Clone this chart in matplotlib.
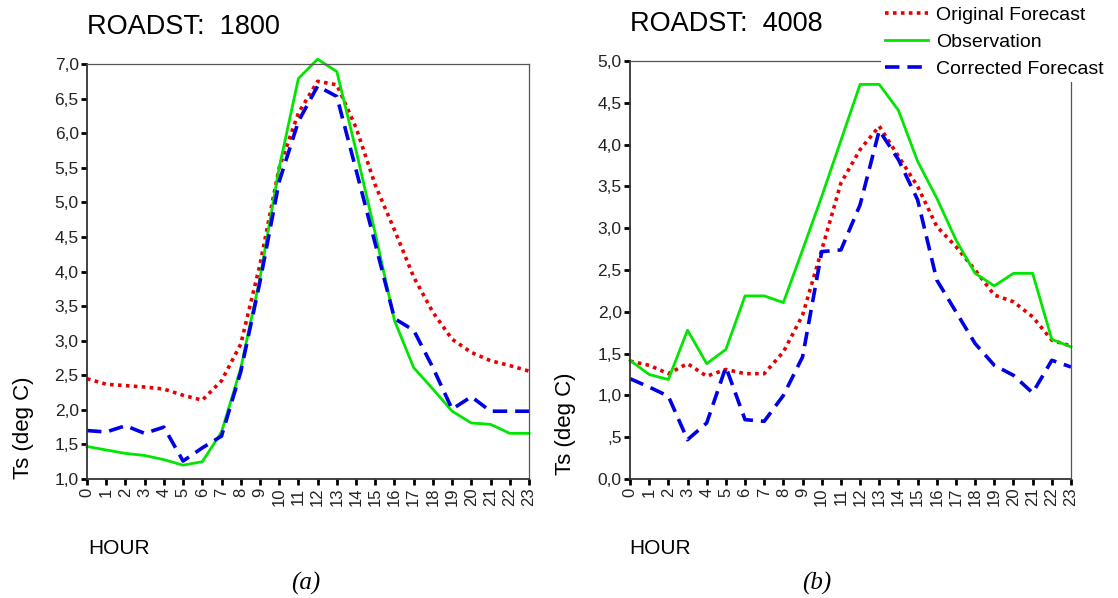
import matplotlib
matplotlib.use('Agg')
import matplotlib.pyplot as plt

plt.rcParams['font.family'] = ['Liberation Sans', 'DejaVu Sans']

# hours 0..23
hours = list(range(24))

# ROADST 1800
orig_1800 = [2.45, 2.37, 2.35, 2.33, 2.30, 2.21, 2.14, 2.42, 2.95, 4.10, 5.50, 6.29,
             6.75, 6.70, 6.08, 5.25, 4.60, 3.92, 3.41, 3.02, 2.83, 2.71, 2.64, 2.56]
obs_1800 = [1.47, 1.42, 1.37, 1.34, 1.28, 1.20, 1.25, 1.68, 2.60, 3.90, 5.50, 6.79,
            7.07, 6.89, 5.75, 4.55, 3.29, 2.61, 2.30, 1.98, 1.81, 1.79, 1.66, 1.66]
corr_1800 = [1.70, 1.68, 1.77, 1.66, 1.75, 1.26, 1.45, 1.62, 2.55, 3.85, 5.30, 6.17,
             6.68, 6.53, 5.47, 4.40, 3.32, 3.15, 2.61, 2.01, 2.19, 1.98, 1.98, 1.98]

# ROADST 4008
orig_4008 = [1.41, 1.36, 1.26, 1.38, 1.23, 1.31, 1.26, 1.26, 1.52, 1.96, 2.74, 3.54,
             3.94, 4.22, 3.86, 3.50, 3.02, 2.78, 2.50, 2.20, 2.12, 1.94, 1.66, 1.59]
obs_4008 = [1.42, 1.25, 1.19, 1.78, 1.38, 1.55, 2.19, 2.19, 2.11, 2.74, 3.38, 4.05,
            4.72, 4.72, 4.41, 3.80, 3.36, 2.86, 2.46, 2.31, 2.46, 2.46, 1.67, 1.58]
corr_4008 = [1.20, 1.10, 0.99, 0.47, 0.67, 1.34, 0.71, 0.69, 1.00, 1.46, 2.72, 2.74,
             3.28, 4.17, 3.82, 3.34, 2.38, 2.00, 1.62, 1.36, 1.24, 1.03, 1.42, 1.34]

yt_1800 = [1.0, 1.5, 2.0, 2.5, 3.0, 3.5, 4.0, 4.5, 5.0, 5.5, 6.0, 6.5, 7.0]
ylab_1800 = ['1,0', '1,5', '2,0', '2,5', '3,0', '3,5', '4,0', '4,5', '5,0', '5,5', '6,0', '6,5', '7,0']
yt_4008 = [0.0, 0.5, 1.0, 1.5, 2.0, 2.5, 3.0, 3.5, 4.0, 4.5, 5.0]
ylab_4008 = ['0,0', ',5', '1,0', '1,5', '2,0', '2,5', '3,0', '3,5', '4,0', '4,5', '5,0']

RED = '#e60000'
GREEN = '#00e600'
BLUE = '#0000e6'

W, H = 1118, 598
fig = plt.figure(figsize=(W / 100, H / 100), dpi=100)


def px_axes(x0, y0, x1, y1):
    return fig.add_axes([x0 / W, 1 - y1 / H, (x1 - x0) / W, (y1 - y0) / H])


def style(ax, ymin, ymax, yt, ylab):
    ax.set_xlim(0, 23)
    ax.set_ylim(ymin, ymax)
    ax.set_xticks(hours)
    ax.set_xticklabels([str(h) for h in hours], rotation=90, fontsize=12)
    ax.set_yticks(yt)
    ax.set_yticklabels(ylab, fontsize=12.5, color='#222222')
    ax.tick_params(direction='out', length=4, width=2, pad=2, color='black')
    for s in ['left', 'bottom']:
        ax.spines[s].set_color('#333333')
        ax.spines[s].set_linewidth(1.3)
    for s in ['top', 'right']:
        ax.spines[s].set_color('#555555')
        ax.spines[s].set_linewidth(0.9)
    for lab in ax.get_xticklabels():
        lab.set_color('#222222')


ax1 = px_axes(87, 64, 529, 479)
ax2 = px_axes(630, 61, 1071, 479)

for ax, o, ob, c in [(ax1, orig_1800, obs_1800, corr_1800),
                     (ax2, orig_4008, obs_4008, corr_4008)]:
    ax.plot(hours, o, color=RED, lw=2.6, linestyle=(0, (1, 1.2)), label='Original Forecast',
            clip_on=False)
    ax.plot(hours, ob, color=GREEN, lw=2.0, label='Observation', clip_on=False)
    ax.plot(hours, c, color=BLUE, lw=2.6, linestyle=(0, (4, 2.2)), label='Corrected Forecast',
            clip_on=False)

style(ax1, 1.0, 7.0, yt_1800, ylab_1800)
style(ax2, 0.0, 5.0, yt_4008, ylab_4008)

fig.text(87 / W, 1 - 27 / H, 'ROADST:  1800', fontsize=19.5, va='center', ha='left')
fig.text(630 / W, 1 - 24 / H, 'ROADST:  4008', fontsize=19.5, va='center', ha='left')

fig.text(24 / W, 1 - 428 / H, 'Ts (deg C)', fontsize=16, rotation=90, va='center', ha='center')
fig.text(565 / W, 1 - 424 / H, 'Ts (deg C)', fontsize=16, rotation=90, va='center', ha='center')

fig.text(88 / W, 1 - 549 / H, 'HOUR', fontsize=15, va='center', ha='left')
fig.text(629 / W, 1 - 549 / H, 'HOUR', fontsize=15, va='center', ha='left')

fig.text(306 / W, 1 - 583 / H, '(a)', fontsize=18, style='italic', family='Liberation Serif',
         va='center', ha='center')
fig.text(817 / W, 1 - 583 / H, '(b)', fontsize=18, style='italic', family='Liberation Serif',
         va='center', ha='center')

handles, labels = ax2.get_legend_handles_labels()
leg = fig.legend(handles, labels, loc='upper left', bbox_to_anchor=(881 / W, 1 - 2 / H),
                 fontsize=14, frameon=True, framealpha=1, edgecolor='white',
                 handlelength=2.2, handletextpad=0.45, labelspacing=0.5,
                 borderpad=0.2, borderaxespad=0)
leg.get_frame().set_linewidth(0)

fig.savefig('out.png', dpi=100)
